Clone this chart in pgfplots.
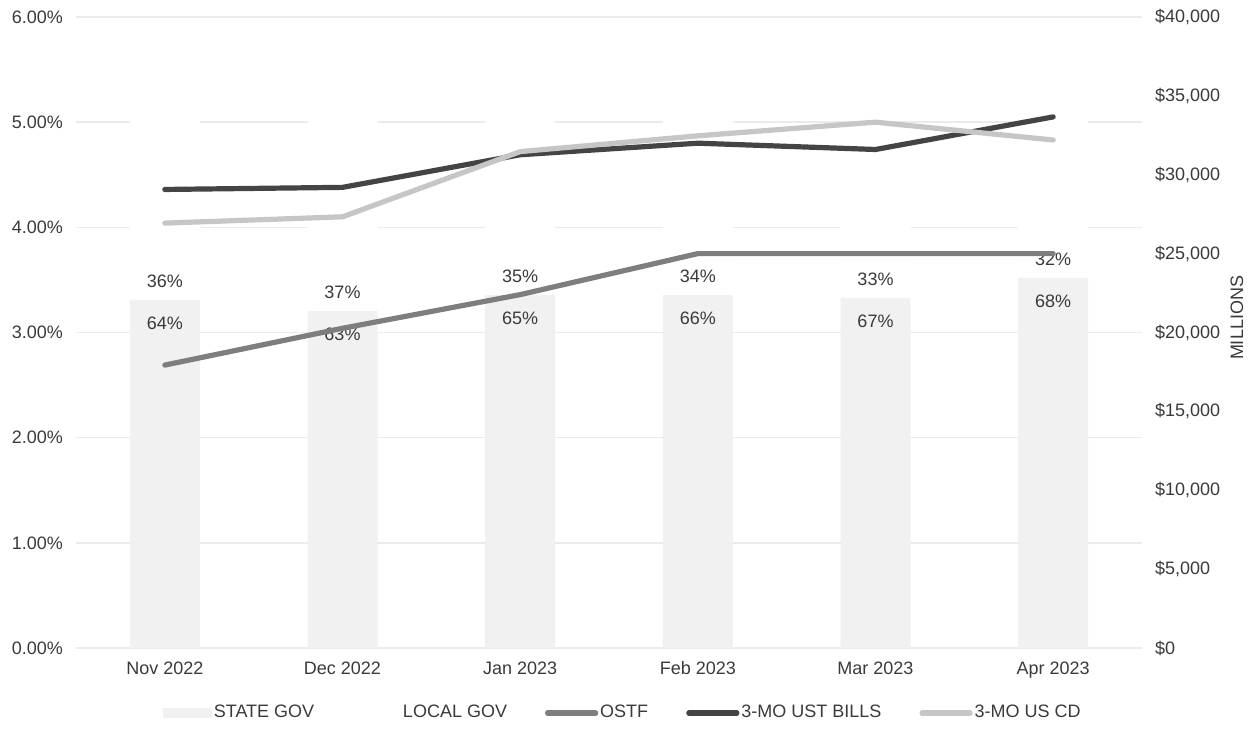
\documentclass[border=0pt]{standalone}
\usepackage{fontspec}
\setmainfont{Liberation Sans}
\usepackage{pgfplots}
\pgfplotsset{compat=1.18}
\definecolor{barS}{HTML}{F1F1F1}
\definecolor{gridc}{HTML}{EBEBEB}
\definecolor{ostf}{HTML}{7E7E7E}
\definecolor{ust}{HTML}{444444}
\definecolor{cd}{HTML}{C6C6C6}
\definecolor{txt}{HTML}{3A3A3A}
\tikzset{blab/.style={text=txt, font=\fontsize{9}{11}\selectfont}}
\pgfplotsset{
  base/.style={
    width=533pt, height=315.5pt, scale only axis,
    xmin=-0.5, xmax=5.5,
    font=\fontsize{9}{11}\selectfont,
    tick label style={text=txt},
    /pgf/number format/assume math mode=true,
    scaled y ticks=false,
    major tick length=0pt,
    axis line style={draw=none},
  }
}
\begin{document}
\begin{tikzpicture}
% axis 1: left scale, grid and labels
\begin{axis}[base,
  ymin=0, ymax=6,
  ytick={0,1,2,3,4,5,6},
  yticklabels={0.00\%,1.00\%,2.00\%,3.00\%,4.00\%,5.00\%,6.00\%},
  ymajorgrids, grid style={draw=gridc, line width=0.8pt},
  xtick={0,1,2,3,4,5},
  xticklabels={Nov 2022,Dec 2022,Jan 2023,Feb 2023,Mar 2023,Apr 2023},
  yticklabel style={xshift=-3pt},
  xticklabel style={yshift=-3pt, text height=6.8pt, text depth=1.5pt},
]
\addplot[draw=none] coordinates {(0,0)};
\coordinate (ll) at (rel axis cs:0,0);
\coordinate (ur) at (rel axis cs:1,1);
\end{axis}
% axis 2: right scale, stacked bars (millions)
\begin{axis}[base,
  ybar stacked, bar width=35pt,
  ymin=0, ymax=40000,
  axis y line*=right, axis x line=none,
  xtick=\empty,
  ytick={0,5000,10000,15000,20000,25000,30000,35000,40000},
  yticklabels={{\$0},{\$5,000},{\$10,000},{\$15,000},{\$20,000},{\$25,000},{\$30,000},{\$35,000},{\$40,000}},
  yticklabel style={xshift=3pt},
  ylabel={MILLIONS},
  ylabel style={at={(rel axis cs:1.089,0.523)}, anchor=center, text=txt},
]
\addplot[fill=barS, draw=none] coordinates {(0,22060) (1,21360) (2,22380) (3,22380) (4,22190) (5,23460)};
\addplot[fill=white, draw=none] coordinates {(0,12410) (1,12550) (2,12050) (3,11530) (4,10930) (5,11040)};
\end{axis}
% axis 2b: share labels, right scale
\begin{axis}[base,
  ymin=0, ymax=40000,
  hide axis,
]
\addplot[draw=none] coordinates {(0,0)};
\node[blab, yshift=-11.5pt] at (axis cs:0,22060) {64\%};
\node[blab, yshift=-11.5pt] at (axis cs:1,21360) {63\%};
\node[blab, yshift=-11.5pt] at (axis cs:2,22380) {65\%};
\node[blab, yshift=-11.5pt] at (axis cs:3,22380) {66\%};
\node[blab, yshift=-11.5pt] at (axis cs:4,22190) {67\%};
\node[blab, yshift=-11.5pt] at (axis cs:5,23460) {68\%};
\node[blab, yshift=9.5pt] at (axis cs:0,22060) {36\%};
\node[blab, yshift=9.5pt] at (axis cs:1,21360) {37\%};
\node[blab, yshift=9.5pt] at (axis cs:2,22380) {35\%};
\node[blab, yshift=9.5pt] at (axis cs:3,22380) {34\%};
\node[blab, yshift=9.5pt] at (axis cs:4,22190) {33\%};
\node[blab, yshift=9.5pt] at (axis cs:5,23460) {32\%};
\end{axis}
% axis 3: lines on left scale
\begin{axis}[base,
  ymin=0, ymax=6,
  hide axis,
  legend columns=5,
  legend style={at={(rel axis cs:0.513,-0.103)}, anchor=center, draw=none, fill=none,
    font=\fontsize{9}{11}\selectfont, text=txt,
    nodes={inner sep=1pt},
    /tikz/every even column/.append style={column sep=18pt}},
  legend cell align=left,
]
\addlegendimage{legend image code/.code={\fill[barS] (0pt,-2.2pt) rectangle (24pt,2.2pt);}}
\addlegendentry{STATE GOV}
\addlegendimage{legend image code/.code={\fill[white] (0pt,-2.2pt) rectangle (24pt,2.2pt);}}
\addlegendentry{LOCAL GOV}
\addplot[color=ostf, line width=2.6pt, line cap=round, line join=round,
  legend image code/.code={\draw[ostf, line width=2.6pt] (0pt,0pt) -- (24pt,0pt);}]
  coordinates {(0,2.69) (1,3.04) (2,3.36) (3,3.75) (4,3.75) (5,3.75)};
\addlegendentry{OSTF}
\addplot[color=ust, line width=2.6pt, line cap=round, line join=round,
  legend image code/.code={\draw[ust, line width=2.6pt] (0pt,0pt) -- (24pt,0pt);}]
  coordinates {(0,4.36) (1,4.38) (2,4.69) (3,4.80) (4,4.74) (5,5.05)};
\addlegendentry{3-MO UST BILLS}
\addplot[color=cd, line width=2.6pt, line cap=round, line join=round,
  legend image code/.code={\draw[cd, line width=2.6pt] (0pt,0pt) -- (24pt,0pt);}]
  coordinates {(0,4.04) (1,4.10) (2,4.72) (3,4.87) (4,5.00) (5,4.83)};
\addlegendentry{3-MO US CD}
\end{axis}
\pgfresetboundingbox
\path[use as bounding box] ([xshift=-38pt,yshift=-47pt]ll) rectangle ([xshift=56pt,yshift=8.5pt]ur);
\end{tikzpicture}
\end{document}
